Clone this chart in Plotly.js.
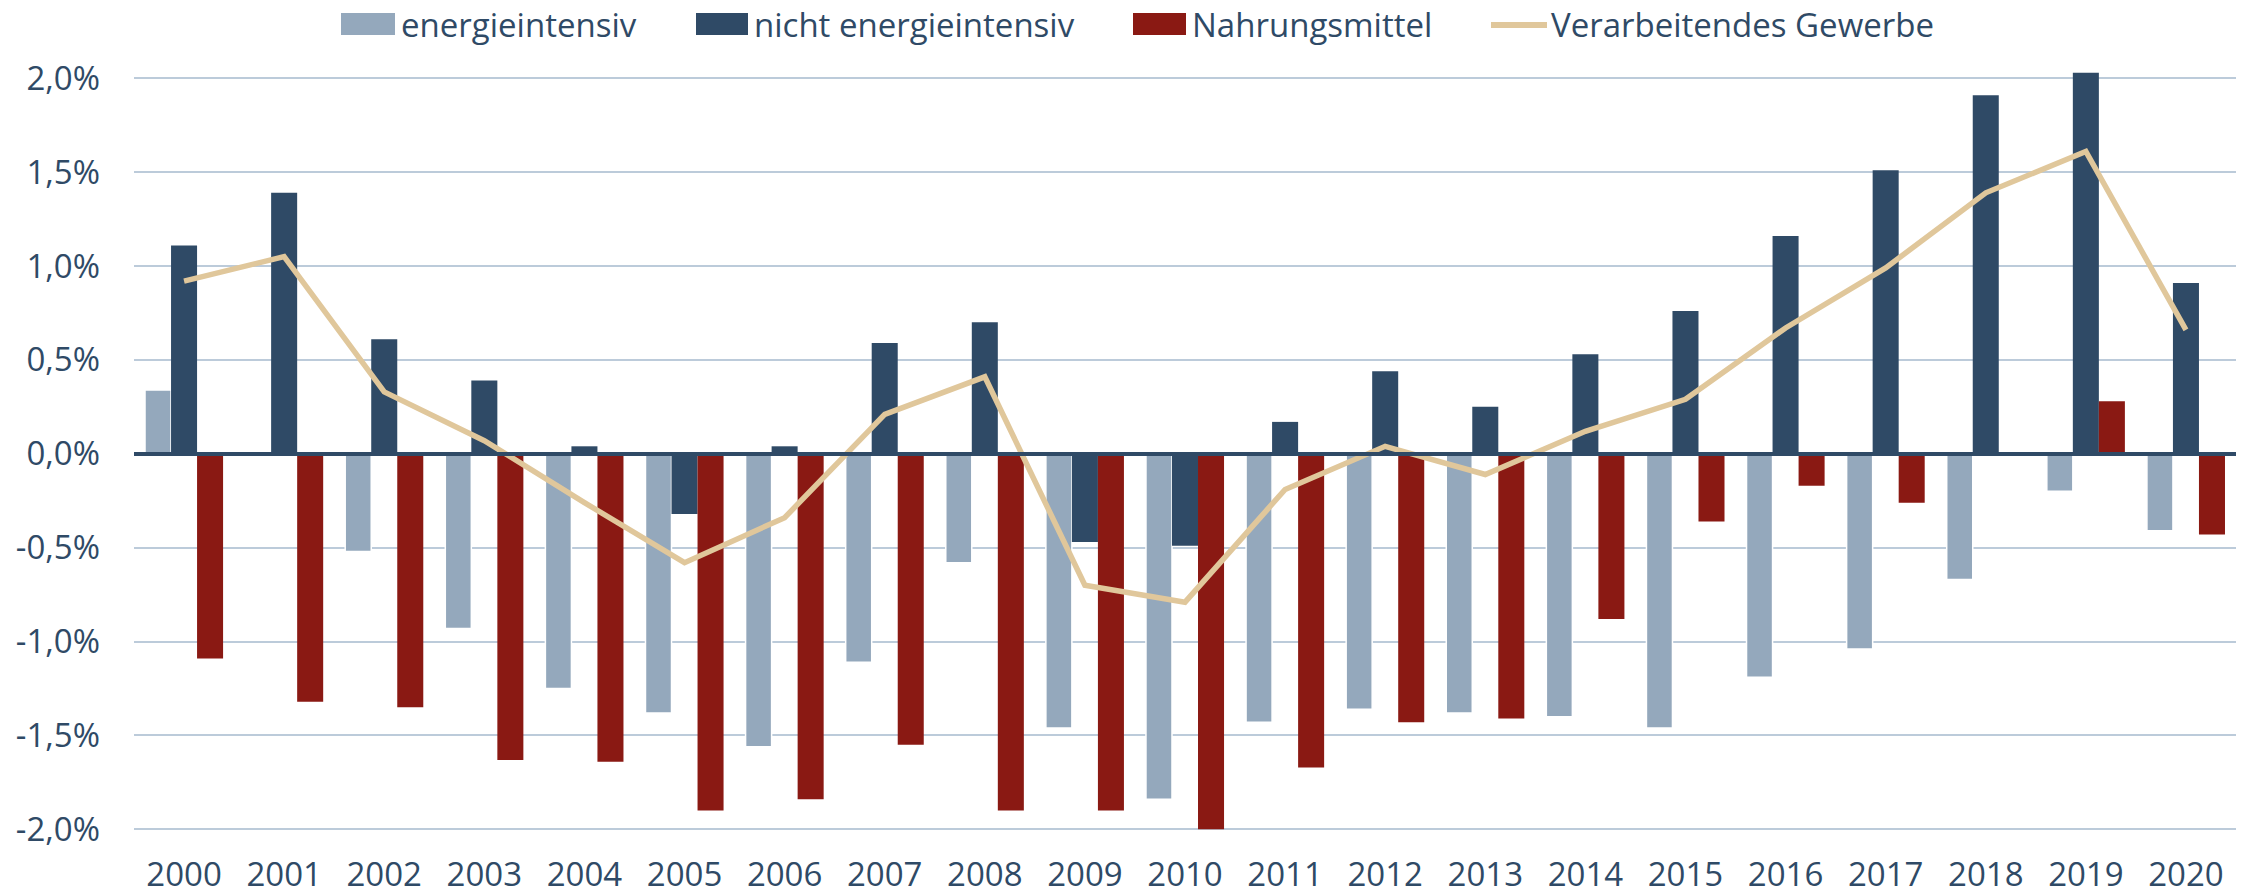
<!DOCTYPE html>
<html>
<head>
<meta charset="utf-8">
<script src="https://cdn.plot.ly/plotly-3.0.1.min.js"></script>
<style>
  html, body { margin: 0; padding: 0; background: #ffffff; }
  #chart { width: 2249px; height: 896px; }
</style>
</head>
<body>
<div id="chart"></div>
<script>
// ---------- data ----------
const years = ['2000','2001','2002','2003','2004','2005','2006','2007','2008','2009','2010',
               '2011','2012','2013','2014','2015','2016','2017','2018','2019','2020'];

const energieintensiv = [0.34, 0.00, -0.52, -0.93, -1.25, -1.38, -1.56, -1.11, -0.58, -1.46, -1.84,
                         -1.43, -1.36, -1.38, -1.40, -1.46, -1.19, -1.04, -0.67, -0.20, -0.41];

const nichtEnergieintensiv = [1.11, 1.39, 0.61, 0.39, 0.04, -0.32, 0.04, 0.59, 0.70, -0.47, -0.49,
                              0.17, 0.44, 0.25, 0.53, 0.76, 1.16, 1.51, 1.91, 2.03, 0.91];

const nahrungsmittel = [-1.09, -1.32, -1.35, -1.63, -1.64, -1.90, -1.84, -1.55, -1.90, -1.90, -2.00,
                        -1.67, -1.43, -1.41, -0.88, -0.36, -0.17, -0.26, 0.00, 0.28, -0.43];

const verarbeitendesGewerbe = [0.92, 1.05, 0.33, 0.07, -0.26, -0.58, -0.34, 0.21, 0.41, -0.70, -0.79,
                               -0.19, 0.04, -0.11, 0.12, 0.29, 0.67, 0.99, 1.39, 1.61, 0.66];

const seriesNames = ['energieintensiv', 'nicht energieintensiv', 'Nahrungsmittel', 'Verarbeitendes Gewerbe'];

const yTickVals = [-2.0, -1.5, -1.0, -0.5, 0.0, 0.5, 1.0, 1.5, 2.0];
const yTickText = ['-2,0%', '-1,5%', '-1,0%', '-0,5%', '0,0%', '0,5%', '1,0%', '1,5%', '2,0%'];

// ---------- styles ----------
const C_LIGHT = '#94A8BC';
const C_DARK  = '#2F4A66';
const C_RED   = '#8A1913';
const C_TAN   = '#E0C79B';
const C_TEXT  = '#2F4A66';
const C_GRID  = '#BCCBDA';
const FONT    = 'Open Sans, Noto Sans, sans-serif';

const W = 2249, H = 896;
const M = { l: 134, r: 13, t: 70, b: 61 };
const plotW = W - M.l - M.r, plotH = H - M.t - M.b;
const px2x = px => (px - M.l) / plotW;
const py2y = py => (H - M.b - py) / plotH;

const traces = [
  { type: 'bar', name: seriesNames[0], x: years, y: energieintensiv,
    marker: { color: C_LIGHT, line: { color: '#ffffff', width: 1.5 } }, showlegend: false },
  { type: 'bar', name: seriesNames[1], x: years, y: nichtEnergieintensiv,
    marker: { color: C_DARK }, showlegend: false },
  { type: 'bar', name: seriesNames[2], x: years, y: nahrungsmittel,
    marker: { color: C_RED }, showlegend: false },
  { type: 'scatter', mode: 'lines', name: seriesNames[3], x: years, y: verarbeitendesGewerbe,
    line: { color: C_TAN, width: 5.5 }, showlegend: false }
];

// custom legend (wide keys as in reference)
const legendItems = [
  { kind: 'rect', color: C_LIGHT, k0: 341, k1: 395, tx: 399 },
  { kind: 'rect', color: C_DARK,  k0: 696, k1: 748, tx: 752 },
  { kind: 'rect', color: C_RED,   k0: 1133, k1: 1186, tx: 1190 },
  { kind: 'line', color: C_TAN,   k0: 1491, k1: 1547, tx: 1549 }
];
const shapes = [];
const annotations = [];
legendItems.forEach((it, i) => {
  if (it.kind === 'rect') {
    shapes.push({ type: 'rect', xref: 'paper', yref: 'paper',
      x0: px2x(it.k0), x1: px2x(it.k1), y0: py2y(35), y1: py2y(13),
      fillcolor: it.color, line: { width: 0 } });
  } else {
    shapes.push({ type: 'line', xref: 'paper', yref: 'paper',
      x0: px2x(it.k0), x1: px2x(it.k1), y0: py2y(25), y1: py2y(25),
      line: { color: it.color, width: 6 } });
  }
  annotations.push({ xref: 'paper', yref: 'paper', x: px2x(it.tx), y: py2y(25),
    xanchor: 'left', yanchor: 'middle', showarrow: false, text: seriesNames[i],
    font: { family: FONT, size: 33, color: C_TEXT } });
});

const layout = {
  width: W, height: H,
  margin: M,
  paper_bgcolor: '#ffffff', plot_bgcolor: '#ffffff',
  font: { family: FONT, size: 33, color: C_TEXT },
  barmode: 'group', bargap: 0.22, bargroupgap: 0,
  showlegend: false,
  xaxis: {
    type: 'category', showgrid: false, showline: false, zeroline: false,
    ticks: 'outside', ticklen: 10, tickcolor: 'rgba(0,0,0,0)',
    tickfont: { family: FONT, size: 33, color: C_TEXT },
    automargin: false, fixedrange: true
  },
  yaxis: {
    range: [-2.03, 2.044], tickvals: yTickVals, ticktext: yTickText,
    showgrid: true, gridcolor: C_GRID, gridwidth: 2,
    zeroline: true, zerolinecolor: C_DARK, zerolinewidth: 3.5, zerolinelayer: 'above traces',
    showline: false, ticks: '', ticklabelstandoff: 33,
    tickfont: { family: FONT, size: 33, color: C_TEXT },
    automargin: false, fixedrange: true
  },
  shapes: shapes,
  annotations: annotations
};

Plotly.newPlot('chart', traces, layout, { displayModeBar: false, staticPlot: true });
</script>
</body>
</html>
